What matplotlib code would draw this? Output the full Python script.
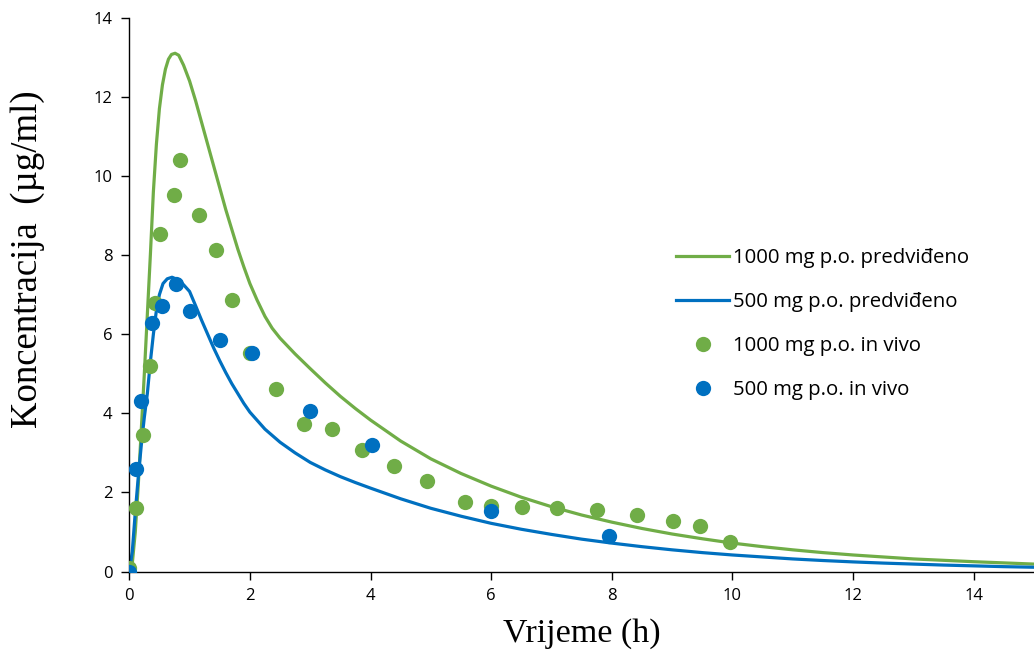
import numpy as np
import matplotlib
matplotlib.use("Agg")
import matplotlib.pyplot as plt

# predicted curves
t_1000 = [0, 0.05, 0.1, 0.15, 0.2, 0.25, 0.3, 0.35, 0.4, 0.45, 0.5, 0.55, 0.6, 0.65, 0.7,
          0.76, 0.82, 0.9, 1.0, 1.1, 1.2, 1.3, 1.4, 1.5, 1.6, 1.7, 1.8, 1.9, 2.0, 2.12,
          2.25, 2.37, 2.5, 2.75, 3.0, 3.25, 3.5, 3.75, 4.0, 4.5, 5.0, 5.5, 6.0, 6.5, 7.0,
          7.5, 8.0, 8.5, 9.0, 9.5, 10.0, 10.5, 11.0, 11.5, 12.0, 12.5, 13.0, 13.5, 14.0,
          14.5, 15.0]
c_1000 = [0, 0.2, 1.0, 2.2, 3.6, 5.0, 6.5, 8.0, 9.6, 10.8, 11.7, 12.3, 12.7, 12.95, 13.07,
          13.1, 13.05, 12.8, 12.4, 11.9, 11.35, 10.8, 10.25, 9.7, 9.15, 8.65, 8.15, 7.7, 7.28, 6.86,
          6.45, 6.15, 5.9, 5.5, 5.13, 4.77, 4.43, 4.12, 3.83, 3.3, 2.85, 2.48, 2.16, 1.88, 1.64,
          1.43, 1.25, 1.09, 0.95, 0.83, 0.72, 0.63, 0.55, 0.48, 0.42, 0.37, 0.32, 0.285, 0.25,
          0.22, 0.19]

t_500 = [0, 0.05, 0.1, 0.15, 0.2, 0.25, 0.3, 0.35, 0.4, 0.45, 0.5, 0.56, 0.63, 0.71, 0.8,
         0.9, 1.0, 1.1, 1.2, 1.3, 1.4, 1.5, 1.6, 1.7, 1.8, 1.9, 2.0, 2.25, 2.5, 2.75, 3.0,
         3.25, 3.5, 3.75, 4.0, 4.5, 5.0, 5.5, 6.0, 6.5, 7.0, 7.5, 8.0, 8.5, 9.0, 9.5, 10.0,
         10.5, 11.0, 11.5, 12.0, 12.5, 13.0, 13.5, 14.0, 14.5, 15.0]
c_500 = [0, 0.5, 1.5, 2.4, 3.2, 3.9, 4.5, 5.3, 6.0, 6.6, 7.0, 7.28, 7.4, 7.44, 7.38,
         7.25, 7.08, 6.72, 6.35, 6.0, 5.65, 5.33, 5.03, 4.75, 4.5, 4.25, 4.03, 3.6, 3.27, 3.0, 2.76,
         2.57, 2.4, 2.25, 2.11, 1.84, 1.6, 1.4, 1.22, 1.07, 0.94, 0.82, 0.72, 0.63, 0.55, 0.48, 0.42,
         0.37, 0.32, 0.28, 0.245, 0.215, 0.19, 0.165, 0.145, 0.125, 0.11]

# in vivo measurements
tv_1000 = [0, 0.11, 0.23, 0.34, 0.43, 0.51, 0.75, 0.84, 1.15, 1.44, 1.70, 2.0, 2.44, 2.90,
           3.36, 3.86, 4.39, 4.93, 5.57, 6.0, 6.51, 7.09, 7.75, 8.41, 9.01, 9.47, 9.96]
cv_1000 = [0.1, 1.6, 3.46, 5.2, 6.8, 8.53, 9.51, 10.39, 9.0, 8.13, 6.86, 5.52, 4.61, 3.73,
           3.6, 3.07, 2.68, 2.30, 1.77, 1.65, 1.63, 1.60, 1.56, 1.43, 1.29, 1.14, 0.75]

tv_500 = [0, 0.11, 0.19, 0.37, 0.55, 0.78, 1.0, 1.50, 2.03, 2.99, 4.02, 6.0, 7.96]
cv_500 = [0, 2.59, 4.32, 6.29, 6.71, 7.26, 6.59, 5.85, 5.52, 4.07, 3.19, 1.54, 0.89]

green = "#70AD47"
blue = "#0070C0"

fig = plt.figure(figsize=(10.34, 6.54), dpi=100)
ax = fig.add_axes([0.125, 0.126, 0.875, 0.847])

ax.plot(t_1000, c_1000, color=green, lw=2.3, label="1000 mg p.o. predviđeno", zorder=2)
ax.plot(t_500, c_500, color=blue, lw=2.3, label="500 mg p.o. predviđeno", zorder=2)
ax.plot(tv_1000, cv_1000, "o", color=green, ms=11, mew=0, label="1000 mg p.o. in vivo", zorder=3)
ax.plot(tv_500, cv_500, "o", color=blue, ms=11, mew=0, label="500 mg p.o. in vivo", zorder=4)

ax.set_xlim(0, 15)
ax.set_ylim(0, 14)
ax.set_xticks(np.arange(0, 15, 2))
ax.set_yticks(np.arange(0, 15, 2))
for s in ["top", "right"]:
    ax.spines[s].set_visible(False)
ax.spines["left"].set_linewidth(1.0)
ax.spines["bottom"].set_linewidth(1.0)
ax.tick_params(direction="out", length=6, width=1.0, labelsize=12, pad=6)
for lab in ax.get_xticklabels() + ax.get_yticklabels():
    lab.set_family("Open Sans")

ax.set_xlabel("Vrijeme (h)", family="Liberation Serif", fontsize=24.5, labelpad=10)
ax.set_ylabel("Koncentracija  (µg/ml)", family="Liberation Serif", fontsize=26.5)
ax.yaxis.set_label_coords(-0.093, 0.564)

leg = ax.legend(loc="upper left", bbox_to_anchor=(0.636, 0.649), bbox_transform=fig.transFigure,
                frameon=False, prop={"family": "Open Sans", "size": 14.7},
                handlelength=2.6, handletextpad=0.2, labelspacing=1.18)

fig.savefig("out.png", dpi=100)
